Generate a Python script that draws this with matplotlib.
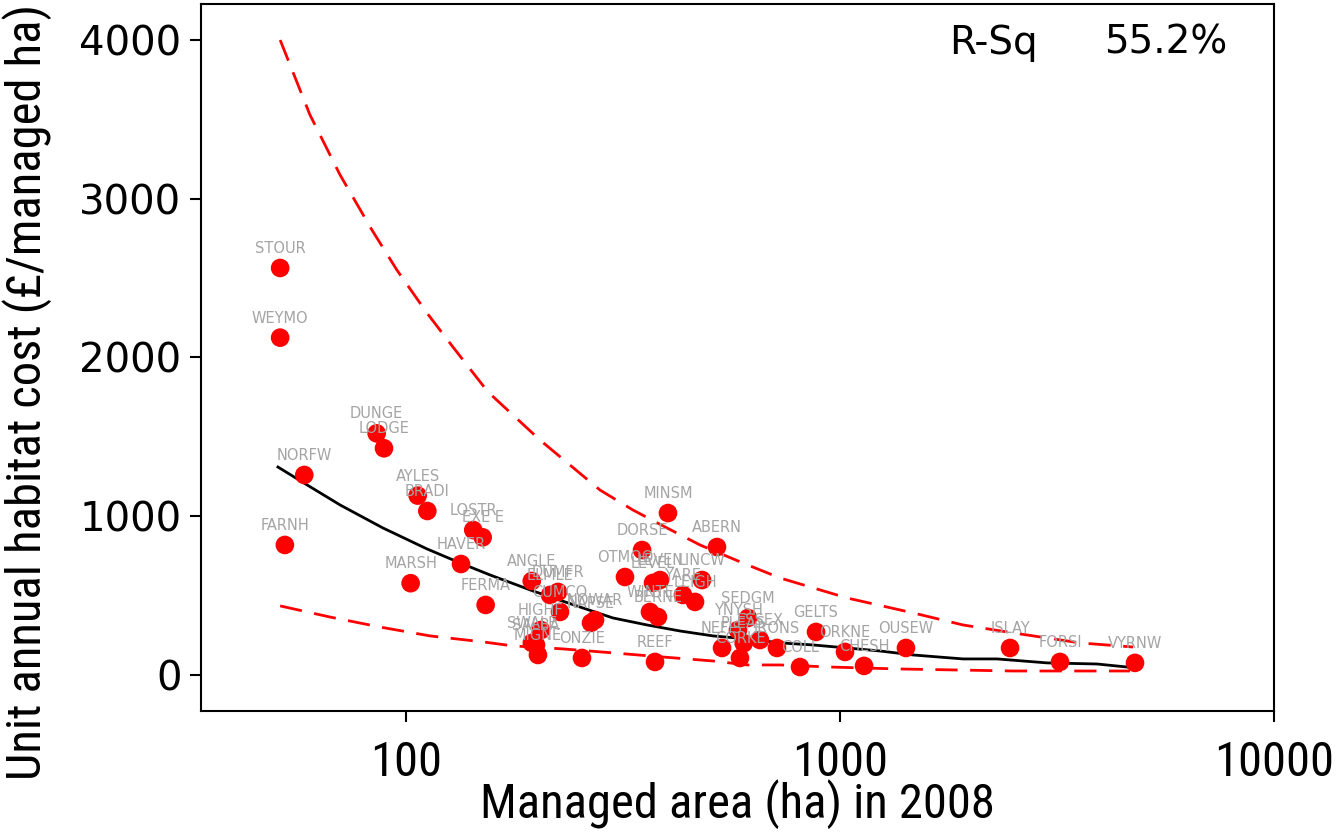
import matplotlib
matplotlib.use("Agg")
import matplotlib.pyplot as plt
import matplotlib.ticker as mticker
from matplotlib import font_manager

# site data: managed area (ha) and unit annual habitat cost (GBP / managed ha)
names = ['STOUR', 'WEYMO', 'DUNGE', 'LODGE', 'NORFW', 'AYLES', 'BRADI', 'LOSTR',
         'EXE E', 'HAVER', 'FARNH', 'MARSH', 'FERMA', 'ANGLE', 'DUMFR', 'ELMLE',
         'CUMCO', 'NOWAR', 'NAPSE', 'HIGHF', 'SALBA', 'SWALE', 'MIGNE', 'ONZIE',
         'REEF', 'OTMOO', 'DORSE', 'MINSM', 'ABERN', 'LEVEL', 'LEVEN', 'LINCW',
         'YARE', 'LEIGH', 'WINTE', 'BERNE', 'SEDGM', 'YNYSH', 'ESSEX', 'NEFIS',
         'PLEAS', 'CORKE', 'IRONS', 'COLL', 'GELTS', 'ORKNE', 'CHESH', 'OUSEW',
         'ISLAY', 'FORSI', 'VYRNW']
area = [51.3, 51.3, 85.6, 89.0, 58.3, 106.4, 112.0, 142.9,
        150.2, 133.9, 52.6, 102.5, 152.6, 194.9, 224.0, 214.7,
        226.4, 272.6, 266.9, 204.6, 199.3, 195.0, 201.4, 254.4,
        374.8, 319.6, 349.9, 401.5, 520.7, 370.8, 384.8, 480.9,
        434.7, 463.4, 364.9, 380.7, 613.8, 582.0, 654.0, 534.8,
        600.0, 588.2, 715.7, 808.8, 880.5, 1027, 1136, 1419,
        2465, 3213, 4783]
cost = [2564, 2125, 1522, 1428, 1260, 1130, 1033, 913,
        867, 699, 819, 578, 441, 592, 523, 504,
        397, 346, 328, 283, 189, 202, 126, 107,
        82, 617, 787, 1020, 806, 580, 598, 598,
        504, 460, 397, 365, 359, 283, 220, 170,
        200, 107, 170, 50, 271, 145, 57, 170,
        170, 82, 76]

# fitted line and 95% prediction interval
fit_x = [50.7, 59.2, 70.5, 88.5, 111.8, 133.2, 156.2, 196.2, 251.8, 299.9, 359.2,
         427.9, 509.8, 610.6, 727.5, 866.6, 1038, 1237, 1473, 1920, 2300, 2999,
         3910, 4584]
fit_y = [1310, 1197, 1071, 926, 794, 706, 630, 529, 428, 359, 315,
         277, 246, 227, 202, 189, 170, 151, 126, 101, 101, 76,
         69, 50]
up_x = [51.3, 60.1, 70.5, 83.5, 95.3, 111.8, 128.3, 154.5, 203.6, 279.9, 333.4,
        399.4, 475.8, 597.6, 727.5, 1038, 1473, 1920, 2503, 3573, 4733]
up_y = [4000, 3528, 3150, 2803, 2551, 2280, 2066, 1783, 1480, 1165, 1039,
        926, 819, 705, 611, 485, 391, 315, 265, 202, 176]
lo_x = [51.3, 66.8, 87.1, 113.6, 150.7, 176.4, 230, 299.9, 391, 509.8, 610.6,
        727.5, 948, 1353, 2503, 4658]
lo_y = [435, 365, 302, 246, 208, 183, 164, 139, 113, 88, 63,
        63, 50, 38, 25, 25]

# pick a narrow font for the axis titles if one is installed
fonts = font_manager.fontManager.ttflist
fnames = {f.name for f in fonts}
narrow_stretch = 'normal'
if 'Roboto Condensed' in fnames:
    narrow, nsize = 'Roboto Condensed', 35
elif 'Liberation Sans Narrow' in fnames:
    narrow, nsize = 'Liberation Sans Narrow', 35
elif any(f.name == 'DejaVu Sans' and 'condensed' in str(f.stretch) for f in fonts):
    narrow, nsize, narrow_stretch = 'DejaVu Sans', 30, 'condensed'
else:
    narrow, nsize = 'DejaVu Sans', 27

fig = plt.figure(figsize=(13.37, 8.34), dpi=100)
ax = fig.add_axes([0.1503, 0.1475, 0.8026, 0.8477])

ax.plot(fit_x, fit_y, color='black', lw=2, zorder=2)
ax.plot(up_x, up_y, color='red', lw=2, dashes=(8, 4.5), zorder=2)
ax.plot(lo_x, lo_y, color='red', lw=2, dashes=(8, 4.5), zorder=2)
ax.scatter(area, cost, s=180, color='red', edgecolors='none', zorder=3)
for n, xx, yy in zip(names, area, cost):
    ax.annotate(n, (xx, yy), xytext=(0, 14), textcoords='offset points',
                ha='center', va='center', fontsize=10.5, color='#a4a4a4', zorder=4)

ax.set_xscale('log')
ax.set_xlim(33.7, 10000)
ax.set_ylim(-227, 4227)
ax.xaxis.set_major_locator(mticker.FixedLocator([100, 1000, 10000]))
ax.xaxis.set_major_formatter(mticker.FixedFormatter(['100', '1000', '10000']))
ax.xaxis.set_minor_locator(mticker.NullLocator())
ax.set_yticks([0, 1000, 2000, 3000, 4000])

ax.tick_params(axis='both', direction='out', length=8, width=1.5)
ax.tick_params(axis='y', labelsize=29, pad=6)
ax.tick_params(axis='x', labelsize=nsize, pad=13)
for lab in ax.get_xticklabels():
    lab.set_family(narrow)
    lab.set_stretch(narrow_stretch)
for sp in ax.spines.values():
    sp.set_linewidth(1.5)

ax.set_xlabel('Managed area (ha) in 2008', fontsize=nsize, family=narrow,
              stretch=narrow_stretch, va='center')
ax.set_ylabel('Unit annual habitat cost (£/managed ha)', fontsize=nsize, family=narrow,
              stretch=narrow_stretch, va='center')
ax.xaxis.set_label_coords(0.5, -0.131)
ax.yaxis.set_label_coords(-0.162, 0.451)

ax.text(0.697, 0.945, 'R-Sq', transform=ax.transAxes, fontsize=28, va='center')
ax.text(0.842, 0.945, '55.2%', transform=ax.transAxes, fontsize=28, va='center')

fig.savefig('out.png', dpi=100)
